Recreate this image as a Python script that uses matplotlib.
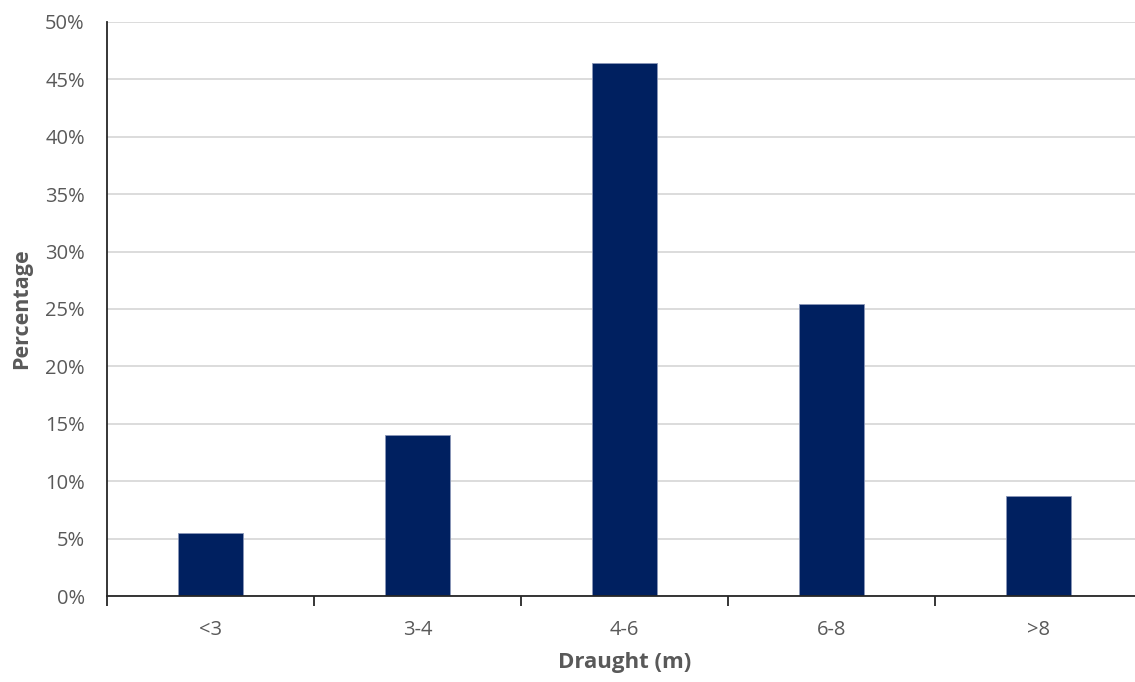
import matplotlib
matplotlib.use("Agg")
import matplotlib.pyplot as plt
from matplotlib.ticker import FuncFormatter, FixedLocator

categories = ["<3", "3-4", "4-6", "6-8", ">8"]
percentages = [5.5, 14.0, 46.4, 25.4, 8.7]
yticks = [0, 5, 10, 15, 20, 25, 30, 35, 40, 45, 50]

plt.rcParams["font.family"] = ["Open Sans", "DejaVu Sans"]

fig = plt.figure(figsize=(11.35, 6.82), dpi=100)
ax = fig.add_axes([0.0943, 0.1257, 0.912, 0.8425])

x = list(range(len(categories)))
ax.bar(x, percentages, width=0.316, color="#002060", edgecolor="#8a97b8",
       linewidth=0.6, zorder=3)

ax.set_xlim(-0.5, len(categories) - 0.5)
ax.set_ylim(0, 50)
ax.set_yticks(yticks)
ax.yaxis.set_major_formatter(FuncFormatter(lambda v, p: f"{v:.0f}%"))
ax.grid(axis="y", color="#d9d9d9", linewidth=1.3, zorder=0)

ax.set_xticks(x)
ax.set_xticklabels(categories)
ax.xaxis.set_minor_locator(FixedLocator([i - 0.5 for i in range(len(categories) + 1)]))
ax.tick_params(axis="x", which="major", length=0, pad=17, labelsize=14.5, labelcolor="#595959")
ax.tick_params(axis="x", which="minor", length=7, width=1.3, color="#262626", direction="out")
ax.tick_params(axis="y", length=0, pad=16, labelsize=14.5, labelcolor="#595959")

for side in ["top", "right"]:
    ax.spines[side].set_visible(False)
ax.spines["left"].set_color("#262626")
ax.spines["left"].set_linewidth(1.3)
ax.spines["bottom"].set_color("#262626")
ax.spines["bottom"].set_linewidth(1.3)
ax.spines["bottom"].set_zorder(4)

ax.set_xlabel("Draught (m)", fontsize=16, fontweight="bold", color="#595959", labelpad=9)
ax.set_ylabel("Percentage", fontsize=15.5, fontweight="bold", color="#595959", labelpad=9)

fig.savefig("out.png", dpi=100)
